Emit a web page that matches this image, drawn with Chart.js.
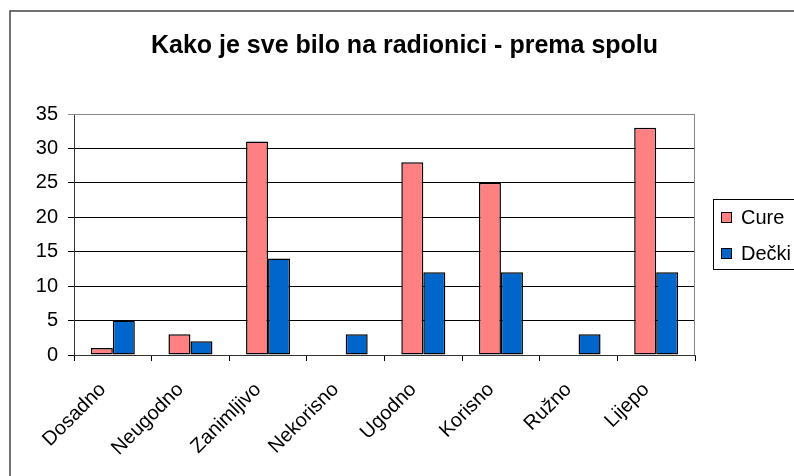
<!DOCTYPE html>
<html>
<head>
<meta charset="utf-8">
<script src="https://cdn.jsdelivr.net/npm/chart.js@4"></script>
<style>
  body { margin: 0; background: #fff; }
</style>
</head>
<body>
<canvas id="chart" width="794" height="476"></canvas>
<script>
const categories = ["Dosadno", "Neugodno", "Zanimljivo", "Nekorisno", "Ugodno", "Korisno", "Ružno", "Lijepo"];
const cure = [1, 3, 31, 0, 28, 25, 0, 33];
const decki = [5, 2, 14, 3, 12, 12, 3, 12];
const seriesNames = ["Cure", "Dečki"];
const seriesColors = ["#FF8080", "#0066CC"];

Chart.defaults.font.family = "'Liberation Sans', Arial, sans-serif";
Chart.defaults.color = "#000";

// okvir oko cijelog grafikona, sivi rub plohe i legenda u kutiji
const frame = {
  id: "frame",
  beforeDraw(chart) {
    const ctx = chart.ctx;
    ctx.save();
    ctx.fillStyle = "#fff";
    ctx.fillRect(0, 0, chart.width, chart.height);
    ctx.strokeStyle = "#444";
    ctx.lineWidth = 1.5;
    ctx.strokeRect(10, 11, 820, 520);
    ctx.restore();
  },
  beforeDatasetsDraw(chart) {
    const { ctx, chartArea: a } = chart;
    ctx.save();
    ctx.strokeStyle = "#888";
    ctx.lineWidth = 1;
    ctx.beginPath();
    ctx.moveTo(a.left, a.top + 0.5);
    ctx.lineTo(a.right - 0.5, a.top + 0.5);
    ctx.lineTo(a.right - 0.5, a.bottom);
    ctx.stroke();
    ctx.restore();
  },
  afterDraw(chart) {
    const ctx = chart.ctx;
    ctx.save();
    ctx.strokeStyle = "#000";
    ctx.lineWidth = 1;
    ctx.strokeRect(713.5, 199.5, 100, 70);
    ctx.font = "20px 'Liberation Sans', Arial, sans-serif";
    ctx.textBaseline = "middle";
    chart.data.datasets.forEach((ds, i) => {
      const y = 217 + i * 36;
      ctx.fillStyle = ds.backgroundColor;
      ctx.fillRect(721, y - 5, 11, 11);
      ctx.strokeRect(721.5, y - 4.5, 10, 10);
      ctx.fillStyle = "#000";
      ctx.fillText(ds.label, 741, y + 1);
    });
    ctx.restore();
  }
};

new Chart(document.getElementById("chart"), {
  type: "bar",
  data: {
    labels: categories,
    datasets: [
      { label: seriesNames[0], data: cure, backgroundColor: seriesColors[0] },
      { label: seriesNames[1], data: decki, backgroundColor: seriesColors[1] }
    ]
  },
  options: {
    responsive: false,
    animation: false,
    layout: { padding: { left: 15, right: 0, top: 0, bottom: 0 } },
    datasets: {
      bar: {
        borderColor: "#000",
        borderWidth: 1.5,
        borderSkipped: false,
        categoryPercentage: 0.567,
        barPercentage: 1
      }
    },
    plugins: {
      legend: { display: false },
      tooltip: { enabled: false },
      title: {
        display: true,
        text: "Kako je sve bilo na radionici - prema spolu",
        font: { size: 25, weight: "bold" },
        color: "#000",
        padding: { top: 31, bottom: 53 }
      }
    },
    scales: {
      x: {
        grid: { drawOnChartArea: false, color: "#000", tickLength: 6 },
        border: { color: "#333" },
        ticks: { font: { size: 20 }, minRotation: 45, maxRotation: 45, autoSkip: false, padding: 17, labelOffset: -10 },
        afterFit(scale) { scale.height = 121; }
      },
      y: {
        min: 0,
        max: 35,
        grid: {
          color: (c) => (c.tick && c.tick.value === 35 ? "#888" : "#000"),
          tickLength: 6
        },
        border: { color: "#333" },
        ticks: { stepSize: 5, font: { size: 20 }, padding: 10 },
        afterFit(scale) { scale.width = 59; }
      },
      // prazno mjesto desno za legendu
      legendSpace: {
        type: "linear",
        position: "right",
        grid: { display: false },
        border: { display: false },
        ticks: { display: false },
        afterFit(scale) { scale.width = 99; }
      }
    }
  },
  plugins: [frame]
});
</script>
</body>
</html>
